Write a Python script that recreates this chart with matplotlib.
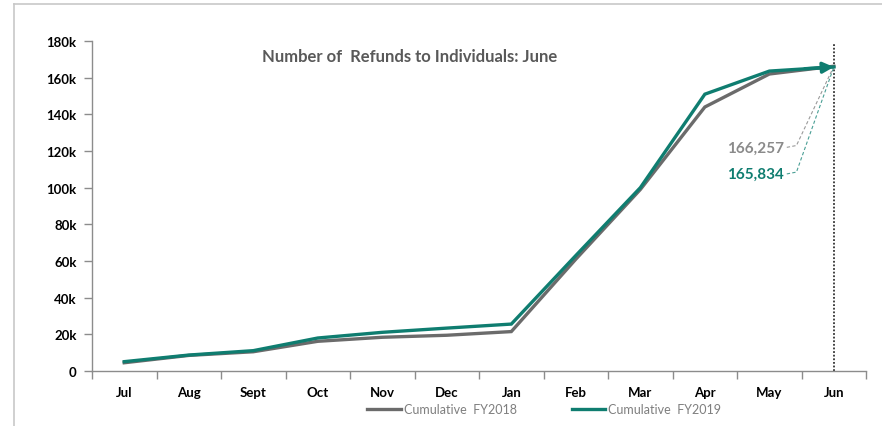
import matplotlib.pyplot as plt
from matplotlib.lines import Line2D

# Data
months = ['Jul', 'Aug', 'Sept', 'Oct', 'Nov', 'Dec', 'Jan', 'Feb', 'Mar', 'Apr', 'May', 'Jun']
fy2018 = [4500, 8500, 10500, 16200, 18400, 19500, 21500, 61000, 99000, 144000, 162000, 166257]
fy2019 = [5100, 8700, 11100, 18000, 21100, 23400, 25600, 63000, 100000, 151000, 163600, 165834]
y_ticks = [0, 20000, 40000, 60000, 80000, 100000, 120000, 140000, 160000, 180000]
y_labels = ['0', '20k', '40k', '60k', '80k', '100k', '120k', '140k', '160k', '180k']

gray = '#6b6b6b'
green = '#0f7d70'
axis_col = '#8c8c8c'

plt.rcParams['font.family'] = ['Lato', 'DejaVu Sans']

fig = plt.figure(figsize=(8.82, 4.27), dpi=100)
ax = fig.add_axes([0.1043, 0.1288, 0.8777, 0.7728])

x = list(range(len(months)))
ax.plot(x, fy2018, color=gray, lw=2.4, solid_joinstyle='miter', zorder=3)
ax.plot(x, fy2019, color=green, lw=2.4, solid_joinstyle='miter', zorder=4)

# arrow head at end of FY2019 line
ax.annotate('', xy=(x[-1], fy2019[-1]), xytext=(x[-2] + 0.55, fy2019[-2] + 1300),
            arrowprops=dict(arrowstyle='-|>', color=green, lw=2.4,
                            mutation_scale=16, shrinkA=0, shrinkB=0), zorder=5)

# vertical dotted marker at June
ax.axvline(x[-1], ymin=0, ymax=0.99, color='#333333', lw=1.3, ls=(0, (1, 1)), zorder=2)

# value labels with dashed leaders
ax.text(10.22, 122000, f'{fy2018[-1]:,}', color='#8a8a8a', fontsize=11,
        fontweight='bold', ha='right', va='center')
ax.plot([10.27, 10.42, x[-1]], [122000, 123000, fy2018[-1]], color='#9a9a9a',
        lw=0.8, ls=(0, (3, 2)), zorder=2)
ax.text(10.22, 107500, f'{fy2019[-1]:,}', color=green, fontsize=11,
        fontweight='bold', ha='right', va='center')
ax.plot([10.27, 10.42, x[-1]], [107500, 108500, fy2019[-1]], color='#4a9f95',
        lw=0.8, ls=(0, (3, 2)), zorder=2)

ax.text(0.41, 0.955, 'Number of  Refunds to Individuals: June', transform=ax.transAxes,
        color='#595959', fontsize=12, fontweight='bold', ha='center', va='center')

ax.set_xlim(-0.5, 11.5)
ax.set_ylim(0, 180000)
ax.set_yticks(y_ticks)
ax.set_yticklabels(y_labels)
ax.set_xticks(x)
ax.set_xticklabels(months)
ax.set_xticks([i - 0.5 for i in range(len(months) + 1)], minor=True)
ax.tick_params(axis='x', which='major', length=0, pad=11, labelsize=9.5)
ax.tick_params(axis='x', which='minor', length=6, color=axis_col, width=1, direction='out')
ax.tick_params(axis='y', length=6, color=axis_col, width=1, direction='out',
               labelsize=9.5, pad=5)
for lab in ax.get_xticklabels() + ax.get_yticklabels():
    lab.set_fontweight('bold')

for s in ['top', 'right']:
    ax.spines[s].set_visible(False)
for s in ['left', 'bottom']:
    ax.spines[s].set_color(axis_col)
    ax.spines[s].set_linewidth(1)

# legend
handles = [Line2D([], [], color=gray, lw=2.4), Line2D([], [], color=green, lw=2.4)]
fig.legend(handles, ['Cumulative  FY2018', 'Cumulative  FY2019'], loc='center',
           bbox_to_anchor=(0.617, 0.04), ncol=2, frameon=False, fontsize=9,
           labelcolor='#7f7f7f', handlelength=2.7, handletextpad=0.2, columnspacing=4.4)

# chart border (left and top edges visible)
fig.add_artist(Line2D([14 / 882, 14 / 882], [0, 1 - 5 / 427], color='#c8c8c8', lw=1.2))
fig.add_artist(Line2D([14 / 882, 1], [1 - 5 / 427, 1 - 5 / 427], color='#c8c8c8', lw=1.2))

fig.savefig('out.png', dpi=100)
